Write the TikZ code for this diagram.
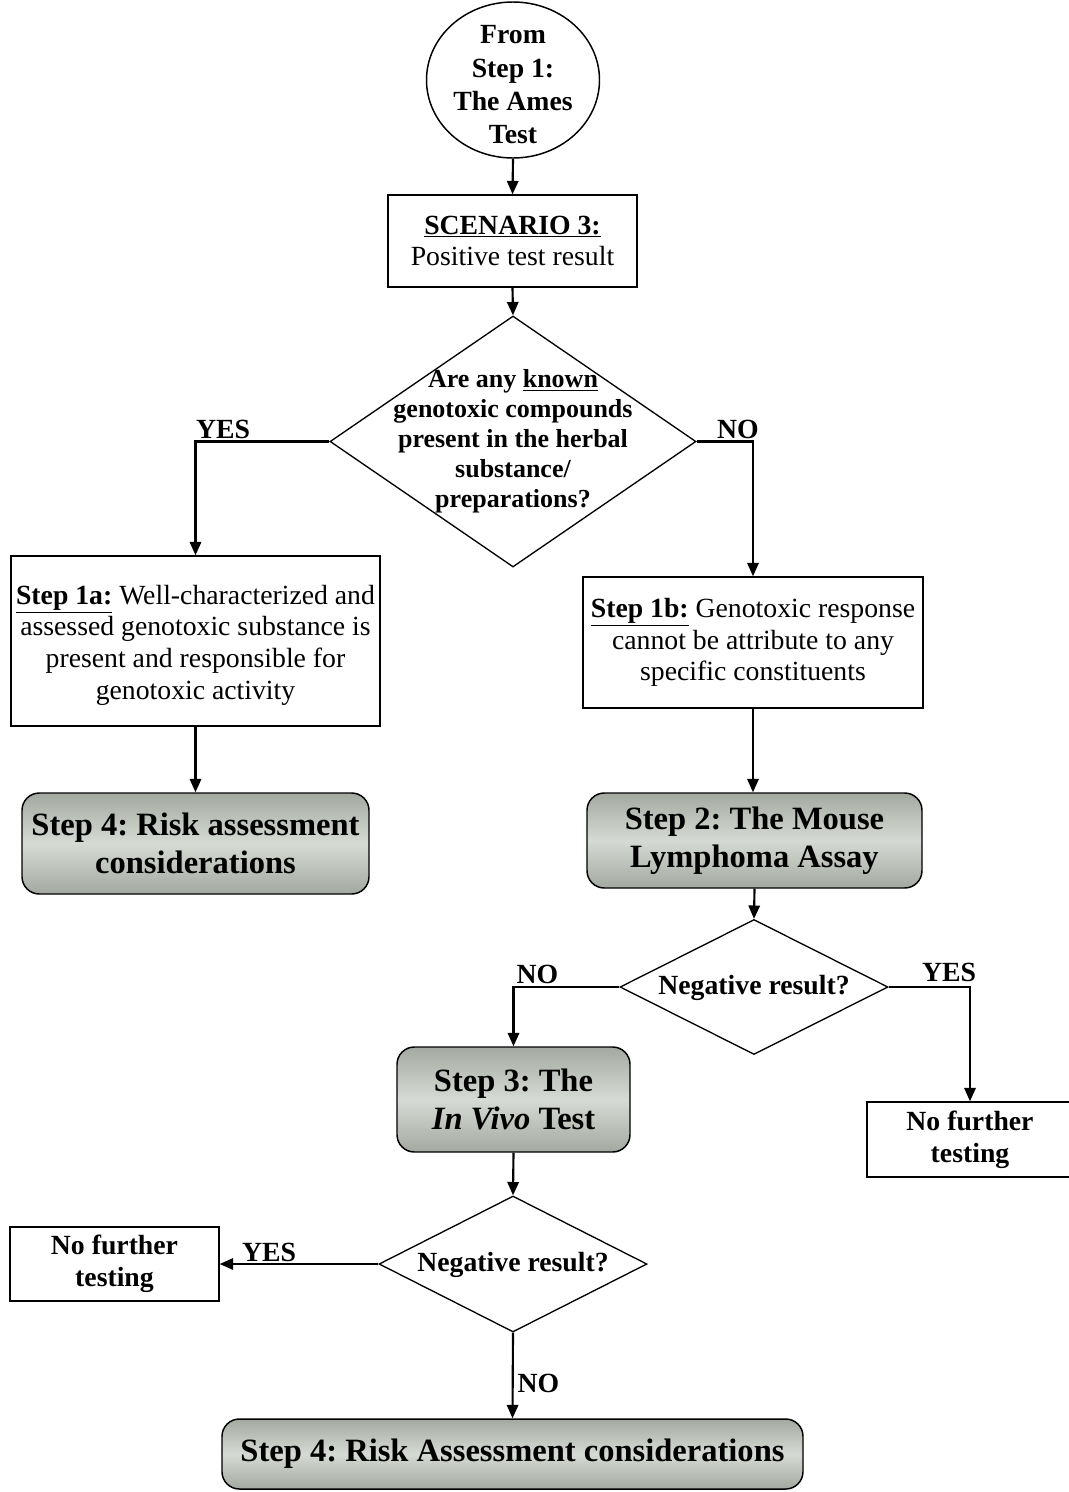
\documentclass[tikz,border=0pt]{standalone}
\usepackage{fontspec}
\setmainfont{Liberation Serif}
\usetikzlibrary{shapes.geometric,arrows.meta}
\definecolor{gtop}{HTML}{A3A9A1}
\definecolor{gmid}{HTML}{D6DAD4}
\frenchspacing
\begin{document}
\begin{tikzpicture}[x=0.75pt,y=-0.75pt,
  box/.style={draw,line width=1.1pt,inner sep=0pt,align=center,font=\fontsize{20.8}{23.8}\selectfont},
  grad/.style={draw,line width=1.1pt,rounded corners=13pt,inner sep=0pt,align=center,top color=gtop,bottom color=gtop,middle color=gmid,font=\fontsize{24.4}{28.5}\selectfont\bfseries},
  dia/.style={draw,diamond,line width=1pt,inner sep=0pt},
  dtext/.style={font=\fontsize{20.8}{23.8}\selectfont\bfseries,inner sep=0pt,align=center},
  lbl/.style={font=\fontsize{20.8}{23.8}\selectfont\bfseries,inner sep=0pt},
  conn/.style={line width=1.6pt,-{Triangle[length=10pt,width=8.5pt]}},
]
\useasboundingbox (0,0) rectangle (1069,1492);

% nodes
\node[draw,ellipse,line width=1.1pt,minimum width=129.75pt,minimum height=117pt,inner sep=0pt] (circ) at (513,80) {};
\node[font=\fontsize{20.8}{25}\selectfont\bfseries,inner sep=0pt,align=center] (circt) at (513,85) {From\\Step 1:\\The Ames\\Test};

\node[box,minimum width=186.75pt,minimum height=69pt] (scen) at (512.5,241) {\textbf{\underline{SCENARIO 3:}}\\Positive test result};

\node[dia,minimum width=274.5pt,minimum height=188.25pt] (d1) at (513,441.5) {};
\node[font=\fontsize{19.5}{22.5}\selectfont\bfseries,align=center,inner sep=0pt] (d1t) at (513,441.5) {Are any \underline{known}\\genotoxic compounds\\present in the herbal\\substance/\\preparations?};

\node[box,minimum width=276.75pt,minimum height=127.5pt] (s1a) at (195.5,641) {};
\node[font=\fontsize{20.8}{23.8}\selectfont,inner sep=0pt,align=center] (s1at) at (195.5,645) {\textbf{\underline{Step 1a:}} Well-characterized and\\assessed genotoxic substance is\\present and responsible for\\genotoxic activity};

\node[grad,minimum width=260.25pt,minimum height=75.75pt] (s4a) at (195.5,843.5) {Step 4: Risk assessment\\considerations};

\node[box,minimum width=255pt,minimum height=98.25pt] (s1b) at (753,642.5) {\textbf{\underline{Step 1b:}} Genotoxic response\\cannot be attribute to any\\specific constituents};

\node[grad,minimum width=251.25pt,minimum height=71.25pt] (s2) at (754.5,840.5) {Step 2: The Mouse\\Lymphoma Assay};

\node[dia,minimum width=201pt,minimum height=101.25pt] (d2) at (754,987) {};
\node[dtext] (d2t) at (754,988) {Negative result?};

\node[grad,minimum width=174.75pt,minimum height=78.75pt] (s3) at (513.5,1099.5) {Step 3: The\\\textit{In Vivo} Test};

\node[box,font=\fontsize{20.8}{23.8}\selectfont\bfseries,minimum width=154.5pt,minimum height=56.25pt] (nftR) at (970,1139.5) {No further\\testing};

\node[dia,minimum width=201pt,minimum height=102pt] (d3) at (513,1264) {};
\node[dtext] (d3t) at (513,1265) {Negative result?};

\node[box,font=\fontsize{20.8}{23.8}\selectfont\bfseries,minimum width=156.75pt,minimum height=55.5pt] (nftL) at (114.5,1264) {No further\\testing};

\node[grad,minimum width=435.75pt,minimum height=52.5pt] (fin) at (512.5,1454) {Step 4: Risk Assessment considerations};

% connectors
\draw[conn] (circ.south) -- (scen.north);
\draw[conn] (scen.south) -- (d1.north);
\draw[conn] (d1.west) -| (s1a.north);
\draw[conn] (d1.east) -| (s1b.north);
\draw[conn] (s1a.south) -- (s4a.north);
\draw[conn] (s1b.south) -- (s2.north -| s1b.south);
\draw[conn] (s2.south) -- (d2.north);
\draw[conn] (d2.west) -| (s3.north);
\draw[conn] (d2.east) -| (nftR.north);
\draw[conn] (s3.south) -- (d3.north);
\draw[conn] (d3.west) -- (nftL.east);
\draw[conn] (d3.south) -- (fin.north);

% labels
\node[lbl] (yes1) at (223,429) {YES};
\node[lbl] (no1) at (738,429) {NO};
\node[lbl] (no2) at (537.5,974) {NO};
\node[lbl] (yes2) at (949,972.5) {YES};
\node[lbl] (yes3) at (269,1252) {YES};
\node[lbl] (no3) at (538.5,1383.5) {NO};
\end{tikzpicture}
\end{document}
